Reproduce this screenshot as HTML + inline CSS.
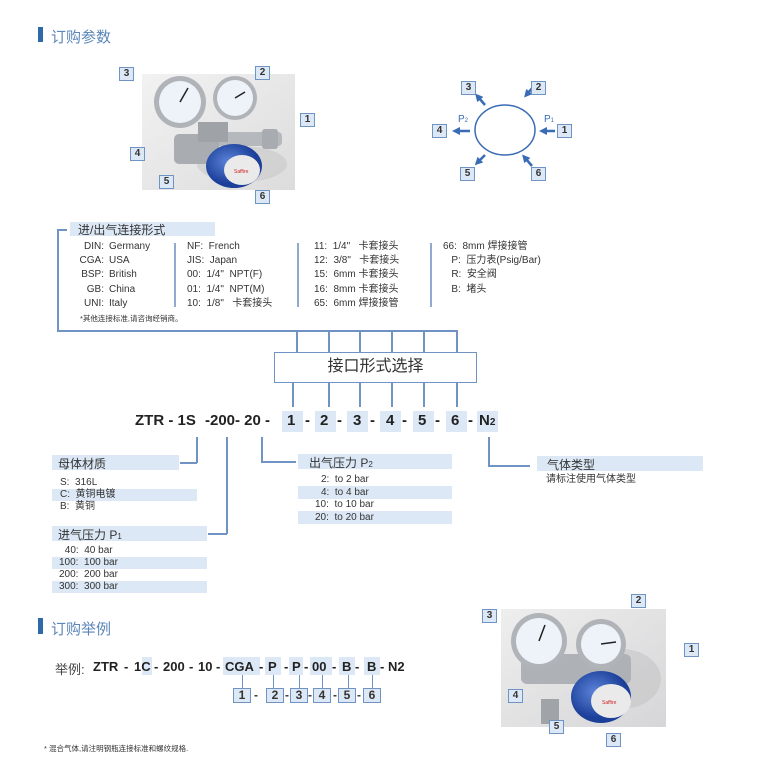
<!DOCTYPE html>
<html><head><meta charset="utf-8"><style>
*{margin:0;padding:0;box-sizing:border-box}
body{width:777px;height:777px;background:#fff;position:relative;overflow:hidden;font-family:"Liberation Sans","Noto Sans CJK SC",sans-serif;color:#333}
.a{position:absolute;white-space:nowrap}
.n{position:absolute;width:15px;height:14px;background:#dce8f6;border:1.5px solid #6f93c3;font-size:10px;font-weight:bold;text-align:center;line-height:11px;color:#333}
.hl{position:absolute;background:#dce8f6}
.ln{position:absolute;background:#6f93c3}
.t{font-size:10px;line-height:12px}
.code{font-size:15px;font-weight:bold;color:#222}
.h{font-size:12px;color:#333}
.ex{position:absolute;top:659px;font-size:13px;font-weight:bold;color:#222;white-space:nowrap}
</style></head><body>

<div class="a" style="left:38px;top:27px;width:5px;height:15px;background:#2e6aa8"></div>
<div class="a" style="left:51px;top:26px;font-size:15px;color:#5b86b8">订购参数</div>

<svg class="a" style="left:142px;top:74px" width="153" height="116">
<defs><linearGradient id="bg" x1="0" y1="0" x2="1" y2="1"><stop offset="0" stop-color="#f2f2f2"/><stop offset="1" stop-color="#dcdcdc"/></linearGradient>
<radialGradient id="kn" cx="0.4" cy="0.4"><stop offset="0" stop-color="#5b84d8"/><stop offset="1" stop-color="#1c3f9a"/></radialGradient></defs>
<rect width="153" height="116" fill="url(#bg)"/>
<ellipse cx="100" cy="90" rx="45" ry="18" fill="#c8c8c8" opacity="0.6"/>
<rect x="60" y="58" width="80" height="14" rx="4" fill="#b5b8bc"/>
<rect x="120" y="55" width="16" height="20" rx="3" fill="#a8abb0"/>
<rect x="32" y="60" width="45" height="30" rx="5" fill="#a9acb1"/>
<circle cx="38" cy="28" r="26" fill="#b0b3b8"/><circle cx="38" cy="28" r="21" fill="#eef3fa"/>
<line x1="38" y1="28" x2="46" y2="14" stroke="#222" stroke-width="1.5"/>
<circle cx="93" cy="24" r="22" fill="#b0b3b8"/><circle cx="93" cy="24" r="18" fill="#eef3fa"/>
<line x1="93" y1="24" x2="103" y2="18" stroke="#222" stroke-width="1.5"/>
<rect x="56" y="48" width="30" height="20" fill="#9fa3a8"/>
<ellipse cx="92" cy="92" rx="28" ry="22" fill="url(#kn)"/>
<ellipse cx="100" cy="96" rx="18" ry="15" fill="#eaeaea"/>
<text x="92" y="99" font-size="5" fill="#c22" font-family="Liberation Sans">Saffire</text>
</svg>
<div class="n" style="left:119px;top:67px">3</div>
<div class="n" style="left:255px;top:66px">2</div>
<div class="n" style="left:300px;top:113px">1</div>
<div class="n" style="left:130px;top:147px">4</div>
<div class="n" style="left:159px;top:175px">5</div>
<div class="n" style="left:255px;top:190px">6</div>

<svg class="a" style="left:420px;top:70px" width="170" height="120">
<defs><marker id="ar" markerUnits="userSpaceOnUse" markerWidth="8" markerHeight="8" refX="2" refY="4" orient="auto"><path d="M0,0 L8,4 L0,8 z" fill="#3a6bb5"/></marker></defs>
<ellipse cx="85" cy="60" rx="30" ry="25" fill="none" stroke="#3a6bb5" stroke-width="1.5"/>
<g stroke="#3a6bb5" stroke-width="2.5" marker-end="url(#ar)">
<line x1="135" y1="61" x2="125" y2="61"/>
<line x1="114" y1="16" x2="108" y2="23"/>
<line x1="65" y1="35" x2="59" y2="28"/>
<line x1="50" y1="61" x2="38" y2="61"/>
<line x1="65" y1="85" x2="59" y2="91"/>
<line x1="112" y1="96" x2="106" y2="89"/>
</g>
<text x="38" y="52" font-size="10" fill="#3a6bb5" font-family="Liberation Sans">P<tspan font-size="6">2</tspan></text>
<text x="124" y="52" font-size="10" fill="#3a6bb5" font-family="Liberation Sans">P<tspan font-size="6">1</tspan></text>
</svg>
<div class="n" style="left:461px;top:81px">3</div>
<div class="n" style="left:531px;top:81px">2</div>
<div class="n" style="left:432px;top:124px">4</div>
<div class="n" style="left:557px;top:124px">1</div>
<div class="n" style="left:460px;top:167px">5</div>
<div class="n" style="left:531px;top:167px">6</div>

<div class="hl" style="left:70px;top:222px;width:145px;height:14px"></div>
<div class="a h" style="left:78px;top:221px">进/出气连接形式</div>
<div class="ln" style="left:57px;top:229px;width:10px;height:1.5px"></div>
<div class="ln" style="left:57px;top:229px;width:1.5px;height:102px"></div>
<div class="ln" style="left:57px;top:330px;width:400px;height:1.5px"></div>
<div class="ln" style="left:296px;top:330px;width:1.5px;height:22px"></div>
<div class="ln" style="left:328px;top:330px;width:1.5px;height:22px"></div>
<div class="ln" style="left:359px;top:330px;width:1.5px;height:22px"></div>
<div class="ln" style="left:391px;top:330px;width:1.5px;height:22px"></div>
<div class="ln" style="left:423px;top:330px;width:1.5px;height:22px"></div>
<div class="ln" style="left:456px;top:330px;width:1.5px;height:22px"></div>
<div class="a" style="left:274px;top:352px;width:203px;height:31px;border:1.5px solid #6f93c3;font-size:16px;text-align:center;line-height:28px;color:#333">接口形式选择</div>
<div class="ln" style="left:292px;top:383px;width:1.5px;height:24px"></div>
<div class="ln" style="left:328px;top:383px;width:1.5px;height:24px"></div>
<div class="ln" style="left:359px;top:383px;width:1.5px;height:24px"></div>
<div class="ln" style="left:391px;top:383px;width:1.5px;height:24px"></div>
<div class="ln" style="left:423px;top:383px;width:1.5px;height:24px"></div>
<div class="ln" style="left:456px;top:383px;width:1.5px;height:24px"></div>

<div class="a t" style="left:60px;top:240px;width:44px;text-align:right;line-height:14.2px">DIN:<br>CGA:<br>BSP:<br>GB:<br>UNI:</div>
<div class="a t" style="left:109px;top:240px;line-height:14.2px">Germany<br>USA<br>British<br>China<br>Italy</div>
<div class="ln" style="left:174px;top:243px;width:1.5px;height:64px;background:#8fa9cf"></div>
<div class="a t" style="left:187px;top:240px;line-height:14.2px">NF:&nbsp; French<br>JIS:&nbsp; Japan<br>00:&nbsp; 1/4"&nbsp; NPT(F)<br>01:&nbsp; 1/4"&nbsp; NPT(M)<br>10:&nbsp; 1/8"&nbsp;&nbsp; 卡套接头</div>
<div class="ln" style="left:297px;top:243px;width:1.5px;height:64px;background:#8fa9cf"></div>
<div class="a t" style="left:314px;top:240px;line-height:14.2px">11:&nbsp; 1/4"&nbsp;&nbsp; 卡套接头<br>12:&nbsp; 3/8"&nbsp;&nbsp; 卡套接头<br>15:&nbsp; 6mm 卡套接头<br>16:&nbsp; 8mm 卡套接头<br>65:&nbsp; 6mm 焊接接管</div>
<div class="ln" style="left:430px;top:243px;width:1.5px;height:64px;background:#8fa9cf"></div>
<div class="a t" style="left:443px;top:240px;line-height:14.2px">66:&nbsp; 8mm 焊接接管<br>&nbsp;&nbsp;&nbsp;P:&nbsp; 压力表(Psig/Bar)<br>&nbsp;&nbsp;&nbsp;R:&nbsp; 安全阀<br>&nbsp;&nbsp;&nbsp;B:&nbsp; 堵头</div>
<div class="a" style="left:80px;top:313px;font-size:7.5px">*其他连接标准,请咨询经销商。</div>

<div class="hl" style="left:282px;top:411px;width:21px;height:21px"></div>
<div class="hl" style="left:315px;top:411px;width:21px;height:21px"></div>
<div class="hl" style="left:347px;top:411px;width:21px;height:21px"></div>
<div class="hl" style="left:380px;top:411px;width:21px;height:21px"></div>
<div class="hl" style="left:413px;top:411px;width:21px;height:21px"></div>
<div class="hl" style="left:446px;top:411px;width:21px;height:21px"></div>
<div class="hl" style="left:477px;top:411px;width:21px;height:21px"></div>
<div class="a code" style="left:135px;top:412px">ZTR - 1S</div>
<div class="a code" style="left:205px;top:412px">-200- 20 -</div>
<div class="a code" style="left:287px;top:412px">1</div><div class="a code" style="left:305px;top:412px">-</div>
<div class="a code" style="left:320px;top:412px">2</div><div class="a code" style="left:337px;top:412px">-</div>
<div class="a code" style="left:353px;top:412px">3</div><div class="a code" style="left:370px;top:412px">-</div>
<div class="a code" style="left:386px;top:412px">4</div><div class="a code" style="left:402px;top:412px">-</div>
<div class="a code" style="left:418px;top:412px">5</div><div class="a code" style="left:435px;top:412px">-</div>
<div class="a code" style="left:451px;top:412px">6</div><div class="a code" style="left:468px;top:412px">-</div>
<div class="a code" style="left:479px;top:412px">N<span style="font-size:10px">2</span></div>

<div class="ln" style="left:196px;top:437px;width:1.5px;height:26px"></div>
<div class="ln" style="left:180px;top:462px;width:17px;height:1.5px"></div>
<div class="ln" style="left:226px;top:437px;width:1.5px;height:97px"></div>
<div class="ln" style="left:208px;top:533px;width:19px;height:1.5px"></div>
<div class="ln" style="left:261px;top:437px;width:1.5px;height:25px"></div>
<div class="ln" style="left:261px;top:461px;width:35px;height:1.5px"></div>
<div class="ln" style="left:488px;top:437px;width:1.5px;height:29px"></div>
<div class="ln" style="left:488px;top:465px;width:42px;height:1.5px"></div>

<div class="hl" style="left:52px;top:455px;width:127px;height:15px"></div>
<div class="a h" style="left:58px;top:455px">母体材质</div>
<div class="a t" style="left:60px;top:477px">S:&nbsp; 316L</div>
<div class="hl" style="left:52px;top:489px;width:145px;height:12px"></div>
<div class="a t" style="left:60px;top:489px">C:&nbsp; 黄铜电镀</div>
<div class="a t" style="left:60px;top:501px">B:&nbsp; 黄铜</div>

<div class="hl" style="left:52px;top:526px;width:155px;height:15px"></div>
<div class="a h" style="left:58px;top:526px">进气压力 P<span style="font-size:8px">1</span></div>
<div class="a t" style="left:62px;top:545px">&nbsp;40:&nbsp; 40 bar</div>
<div class="hl" style="left:52px;top:557px;width:155px;height:12px"></div>
<div class="a t" style="left:59px;top:557px">100:&nbsp; 100 bar</div>
<div class="a t" style="left:59px;top:569px">200:&nbsp; 200 bar</div>
<div class="hl" style="left:52px;top:581px;width:155px;height:12px"></div>
<div class="a t" style="left:59px;top:581px">300:&nbsp; 300 bar</div>

<div class="hl" style="left:298px;top:454px;width:154px;height:15px"></div>
<div class="a h" style="left:309px;top:454px">出气压力 P<span style="font-size:8px">2</span></div>
<div class="a t" style="left:321px;top:474px">2:&nbsp; to 2 bar</div>
<div class="hl" style="left:298px;top:486px;width:154px;height:13px"></div>
<div class="a t" style="left:321px;top:487px">4:&nbsp; to 4 bar</div>
<div class="a t" style="left:315px;top:499px">10:&nbsp; to 10 bar</div>
<div class="hl" style="left:298px;top:511px;width:154px;height:13px"></div>
<div class="a t" style="left:315px;top:512px">20:&nbsp; to 20 bar</div>

<div class="hl" style="left:537px;top:456px;width:166px;height:15px"></div>
<div class="a h" style="left:547px;top:456px">气体类型</div>
<div class="a t" style="left:546px;top:474px">请标注使用气体类型</div>

<div class="a" style="left:38px;top:618px;width:5px;height:16px;background:#2e6aa8"></div>
<div class="a" style="left:51px;top:618px;font-size:15px;color:#5b86b8">订购举例</div>

<div class="hl" style="left:142px;top:657px;width:10px;height:18px"></div>
<div class="hl" style="left:223px;top:657px;width:37px;height:18px"></div>
<div class="hl" style="left:265px;top:657px;width:16px;height:18px"></div>
<div class="hl" style="left:289px;top:657px;width:14px;height:18px"></div>
<div class="hl" style="left:310px;top:657px;width:22px;height:18px"></div>
<div class="hl" style="left:339px;top:657px;width:16px;height:18px"></div>
<div class="hl" style="left:364px;top:657px;width:16px;height:18px"></div>
<div class="ex" style="left:55px;font-weight:normal;color:#444">举例:</div>
<div class="ex" style="left:93px">ZTR</div>
<div class="ex" style="left:124px">-</div>
<div class="ex" style="left:134px">1C</div>
<div class="ex" style="left:154px">-</div>
<div class="ex" style="left:163px">200</div>
<div class="ex" style="left:189px">-</div>
<div class="ex" style="left:198px">10</div>
<div class="ex" style="left:216px">-</div>
<div class="ex" style="left:225px">CGA</div>
<div class="ex" style="left:259px">-</div>
<div class="ex" style="left:268px">P</div>
<div class="ex" style="left:284px">-</div>
<div class="ex" style="left:292px">P</div>
<div class="ex" style="left:304px">-</div>
<div class="ex" style="left:312px">00</div>
<div class="ex" style="left:332px">-</div>
<div class="ex" style="left:342px">B</div>
<div class="ex" style="left:355px">-</div>
<div class="ex" style="left:367px">B</div>
<div class="ex" style="left:380px">-</div>
<div class="ex" style="left:388px">N2</div>
<div class="ln" style="left:242px;top:675px;width:1px;height:13px"></div>
<div class="ln" style="left:273px;top:675px;width:1px;height:13px"></div>
<div class="ln" style="left:299px;top:675px;width:1px;height:13px"></div>
<div class="ln" style="left:322px;top:675px;width:1px;height:13px"></div>
<div class="ln" style="left:348px;top:675px;width:1px;height:13px"></div>
<div class="ln" style="left:372px;top:675px;width:1px;height:13px"></div>
<div class="n" style="left:233px;top:688px;width:18px;height:15px;font-size:12px;line-height:12px">1</div>
<div class="a" style="left:254px;top:688px;font-size:12px;font-weight:bold">-</div>
<div class="n" style="left:266px;top:688px;width:18px;height:15px;font-size:12px;line-height:12px">2</div>
<div class="a" style="left:285px;top:688px;font-size:12px;font-weight:bold">-</div>
<div class="n" style="left:290px;top:688px;width:18px;height:15px;font-size:12px;line-height:12px">3</div>
<div class="a" style="left:308px;top:688px;font-size:12px;font-weight:bold">-</div>
<div class="n" style="left:313px;top:688px;width:18px;height:15px;font-size:12px;line-height:12px">4</div>
<div class="a" style="left:333px;top:688px;font-size:12px;font-weight:bold">-</div>
<div class="n" style="left:338px;top:688px;width:18px;height:15px;font-size:12px;line-height:12px">5</div>
<div class="a" style="left:357px;top:688px;font-size:12px;font-weight:bold">-</div>
<div class="n" style="left:363px;top:688px;width:18px;height:15px;font-size:12px;line-height:12px">6</div>

<svg class="a" style="left:501px;top:609px" width="165" height="118">
<defs><linearGradient id="bg2" x1="0" y1="0" x2="1" y2="1"><stop offset="0" stop-color="#eeeeee"/><stop offset="1" stop-color="#d6d6d8"/></linearGradient>
<radialGradient id="kn2" cx="0.4" cy="0.4"><stop offset="0" stop-color="#5b84d8"/><stop offset="1" stop-color="#1c3f9a"/></radialGradient></defs>
<rect width="165" height="118" fill="url(#bg2)"/>
<ellipse cx="120" cy="70" rx="40" ry="30" fill="#c4c4c6" opacity="0.6"/>
<rect x="20" y="45" width="110" height="30" rx="6" fill="#aeb1b6"/>
<rect x="40" y="90" width="18" height="25" fill="#a0a3a8"/>
<circle cx="38" cy="32" r="28" fill="#b0b3b8"/><circle cx="38" cy="32" r="23" fill="#eef3fa"/>
<line x1="38" y1="32" x2="44" y2="16" stroke="#222" stroke-width="1.5"/>
<circle cx="100" cy="35" r="25" fill="#b0b3b8"/><circle cx="100" cy="35" r="20" fill="#eef3fa"/>
<line x1="100" y1="35" x2="115" y2="33" stroke="#222" stroke-width="1.5"/>
<ellipse cx="100" cy="88" rx="30" ry="26" fill="url(#kn2)"/>
<ellipse cx="110" cy="92" rx="20" ry="17" fill="#eaeaea"/>
<text x="101" y="95" font-size="5" fill="#c22" font-family="Liberation Sans">Saffire</text>
</svg>
<div class="n" style="left:482px;top:609px">3</div>
<div class="n" style="left:631px;top:594px">2</div>
<div class="n" style="left:684px;top:643px">1</div>
<div class="n" style="left:508px;top:689px">4</div>
<div class="n" style="left:549px;top:720px">5</div>
<div class="n" style="left:606px;top:733px">6</div>

<div class="a" style="left:44px;top:743px;font-size:7.5px">* 混合气体,请注明钢瓶连接标准和螺纹规格.</div>
</body></html>
